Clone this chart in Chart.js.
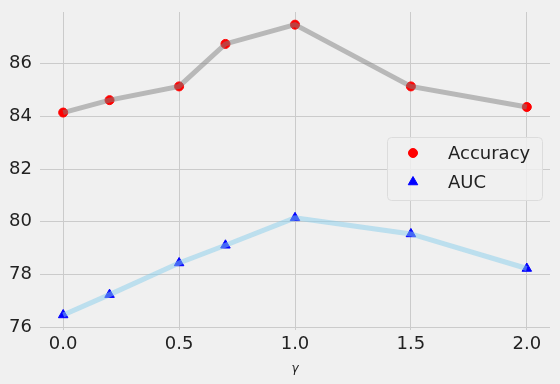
<!DOCTYPE html>
<html>
<head>
<meta charset="utf-8">
<script src="https://cdn.jsdelivr.net/npm/chart.js@4/dist/chart.umd.min.js"></script>
<style>
  html, body { margin: 0; padding: 0; background: #f0f0f0; }
  #wrap { width: 560px; height: 384px; }
</style>
</head>
<body>
<div id="wrap"><canvas id="chart"></canvas></div>
<script>
// values
const gammas = [0.0, 0.2, 0.5, 0.7, 1.0, 1.5, 2.0];
const accuracy = [84.14, 84.61, 85.13, 86.74, 87.47, 85.13, 84.35];
const auc = [76.47, 77.24, 78.44, 79.11, 80.15, 79.54, 78.23];
const xTicks = [0.0, 0.5, 1.0, 1.5, 2.0];
const yTicks = [76, 78, 80, 82, 84, 86];

const FONT = "'DejaVu Sans', sans-serif";

function pts(ys) {
  return gammas.map((g, i) => ({ x: g, y: ys[i] }));
}

// legend drawn inside the plot, like matplotlib's loc="center right"
const insideLegend = {
  id: "insideLegend",
  afterDraw(chart) {
    const ctx = chart.ctx;
    const area = chart.chartArea;
    const items = chart.data.datasets.filter((d) => d.inLegend);
    const w = 155, rowH = 29;
    const h = items.length * rowH + 5;
    const x = area.right - w - 8;
    const y = area.top + 125;
    ctx.save();
    ctx.fillStyle = "rgba(240,240,240,0.8)";
    ctx.strokeStyle = "#dcdcdc";
    ctx.lineWidth = 1;
    ctx.beginPath();
    ctx.roundRect(x + 0.5, y + 0.5, w, h, 4);
    ctx.fill();
    ctx.stroke();
    ctx.font = "18px " + FONT;
    ctx.textBaseline = "middle";
    items.forEach((d, i) => {
      const cy = y + 16 + i * rowH;
      ctx.fillStyle = d.pointBackgroundColor;
      ctx.strokeStyle = d.pointBorderColor;
      Chart.helpers.drawPoint(ctx, {
        pointStyle: d.pointStyle,
        radius: d.pointRadius,
        rotation: 0,
        borderWidth: 1,
      }, x + 26, cy);
      ctx.fillStyle = "#222";
      ctx.fillText(d.label, x + 61, cy + 1);
    });
    ctx.restore();
  },
};

new Chart(document.getElementById("chart"), {
  type: "scatter",
  data: {
    datasets: [
      {
        label: "Accuracy line",
        data: pts(accuracy),
        showLine: true,
        borderColor: "rgba(128,128,128,0.5)",
        borderWidth: 5,
        pointRadius: 0,
        order: 1,
      },
      {
        label: "AUC line",
        data: pts(auc),
        showLine: true,
        borderColor: "rgba(135,206,235,0.5)",
        borderWidth: 5,
        pointRadius: 0,
        order: 1,
      },
      {
        label: "Accuracy",
        inLegend: true,
        data: pts(accuracy),
        pointStyle: "circle",
        pointRadius: 4.5,
        pointBackgroundColor: "red",
        pointBorderColor: "red",
        order: 2,
      },
      {
        label: "AUC",
        inLegend: true,
        data: pts(auc),
        pointStyle: "triangle",
        pointRadius: 5.5,
        pointBackgroundColor: "blue",
        pointBorderColor: "blue",
        order: 2,
      },
    ],
  },
  options: {
    responsive: true,
    maintainAspectRatio: false,
    animation: false,
    layout: { padding: { top: 12, right: 10, left: 0, bottom: 0 } },
    plugins: {
      legend: { display: false },
      tooltip: { enabled: false },
    },
    scales: {
      x: {
        type: "linear",
        min: -0.1,
        max: 2.1,
        afterBuildTicks: (s) => { s.ticks = xTicks.map((v) => ({ value: v })); },
        afterFit: (s) => {
          s.height = 54;
          s.paddingLeft = 0;
          s.paddingRight = 0;
        },
        grid: { color: "#cbcbcb", lineWidth: 1, drawTicks: false },
        border: { display: false },
        ticks: {
          padding: 4,
          color: "#222",
          font: { family: FONT, size: 18 },
          callback: (v) => Number(v).toFixed(1),
        },
        title: {
          display: true,
          text: "γ",
          color: "#222",
          font: { family: FONT, size: 12, style: "italic" },
          padding: { top: 0, bottom: 8 },
        },
      },
      y: {
        min: 75.9,
        max: 87.95,
        afterBuildTicks: (s) => { s.ticks = yTicks.map((v) => ({ value: v })); },
        afterFit: (s) => {
          s.width = 40;
          s.paddingTop = 0;
          s.paddingBottom = 0;
        },
        grid: { color: "#cbcbcb", lineWidth: 1, drawTicks: false },
        border: { display: false },
        ticks: {
          padding: 8,
          color: "#222",
          font: { family: FONT, size: 18 },
          callback: (v) => String(v),
        },
      },
    },
  },
  plugins: [insideLegend],
});
</script>
</body>
</html>
